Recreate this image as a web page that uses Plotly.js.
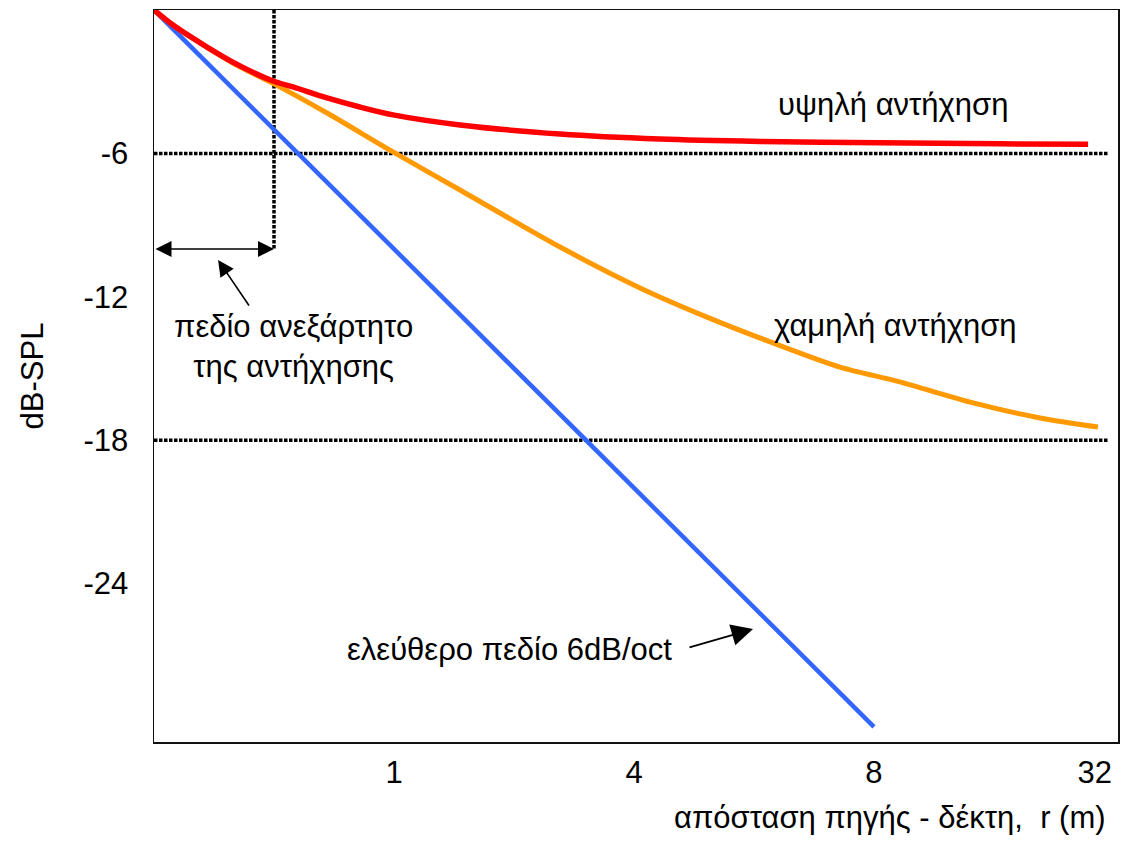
<!DOCTYPE html>
<html>
<head>
<meta charset="utf-8">
<script src="https://cdn.plot.ly/plotly-3.0.1.min.js"></script>
<style>html,body{margin:0;padding:0;background:#fff;}</style>
</head>
<body>
<div id="chart" style="width:1122px;height:841px;"></div>
<script>
// x positions are the equally spaced distance steps of the chart's axis
const tickPos = [1, 2, 3, 3.92];
const tickText = ['1', '4', '8', '32'];
const yTickVals = [-6, -12, -18, -24];
const yTickText = ['-6', '-12', '-18', '-24'];

const freeX = [0, 3];
const freeY = [0, -30];

const highX = [0, 0.079, 0.221, 0.358, 0.496, 0.579, 0.721, 0.858, 0.996, 1.275, 1.692, 2.108, 2.525, 3.025, 3.525, 3.892];
const highY = [0, -0.63, -1.55, -2.34, -2.97, -3.22, -3.68, -4.06, -4.39, -4.81, -5.19, -5.40, -5.50, -5.56, -5.60, -5.62];

const lowX = [0, 0.079, 0.221, 0.358, 0.496, 0.721, 0.996, 1.275, 1.692, 2.025, 2.304, 2.579, 2.858, 3.108, 3.413, 3.692, 3.933];
const lowY = [0, -0.63, -1.56, -2.38, -3.07, -4.31, -5.94, -7.53, -9.92, -11.63, -12.85, -13.93, -14.94, -15.56, -16.44, -17.07, -17.45];

const guideLevels = [-6, -18];
const guideEnd = 3.975;
const criticalDist = 0.5;
const arrowLevel = -10;

const F = '"Liberation Sans", Arial, sans-serif';
const fs = 31;

const traces = [
  {x: freeX, y: freeY, mode: 'lines', line: {color: '#3366FF', width: 4.5}, hoverinfo: 'skip'},
  {x: lowX, y: lowY, mode: 'lines', line: {color: '#FF9900', width: 5, shape: 'spline', smoothing: 0.8}, hoverinfo: 'skip'},
  {x: highX, y: highY, mode: 'lines', line: {color: '#FF0000', width: 5.5, shape: 'spline', smoothing: 0.8}, hoverinfo: 'skip'}
];

const dotLine = {color: '#000', width: 3.5, dash: '3.5px,1.5px'};
const shapes = guideLevels.map(v => ({
  type: 'line', xref: 'x', yref: 'y', x0: 0, x1: guideEnd, y0: v, y1: v,
  line: dotLine, layer: 'below'
}));
shapes.push({
  type: 'line', xref: 'x', yref: 'y', x0: criticalDist, x1: criticalDist, y0: 0, y1: arrowLevel,
  line: dotLine, layer: 'below'
});

const annotations = [
  {x: 3.08, y: -3.97, xref: 'x', yref: 'y', text: 'υψηλή αντήχηση', showarrow: false, xanchor: 'center', yanchor: 'middle', font: {family: F, size: fs, color: '#000'}},
  {x: 3.09, y: -13.22, xref: 'x', yref: 'y', text: 'χαμηλή αντήχηση', showarrow: false, xanchor: 'center', yanchor: 'middle', font: {family: F, size: fs, color: '#000'}},
  {x: 0.583, y: -14.06, xref: 'x', yref: 'y', text: 'πεδίο ανεξάρτητο<br>της αντήχησης', showarrow: false, xanchor: 'center', yanchor: 'middle', align: 'center', font: {family: F, size: fs, color: '#000'}},
  {x: 1.483, y: -26.78, xref: 'x', yref: 'y', text: 'ελεύθερο πεδίο 6dB/oct', showarrow: false, xanchor: 'center', yanchor: 'middle', font: {family: F, size: fs, color: '#000'}},
  {x: 2.496, y: -25.9, ax: 2.225, ay: -26.69, xref: 'x', yref: 'y', axref: 'x', ayref: 'y', text: '', showarrow: true, arrowhead: 2, arrowsize: 2.4, arrowwidth: 1.8, arrowcolor: '#000', standoff: 0, startstandoff: 0},
  {x: 0.267, y: -10.46, ax: 0.4, ay: -12.43, xref: 'x', yref: 'y', axref: 'x', ayref: 'y', text: '', showarrow: true, arrowhead: 2, arrowsize: 2, arrowwidth: 1.6, arrowcolor: '#000', standoff: 0, startstandoff: 0},
  {x: criticalDist, y: arrowLevel, ax: 0, ay: arrowLevel, xref: 'x', yref: 'y', axref: 'x', ayref: 'y', text: '', showarrow: true, arrowside: 'end+start', arrowhead: 2, startarrowhead: 2, arrowsize: 2, startarrowsize: 2, arrowwidth: 1.6, arrowcolor: '#000', standoff: 0, startstandoff: 0},
  {x: 0.9896, y: -0.1025, xref: 'paper', yref: 'paper', text: 'απόσταση πηγής - δέκτη,  r (m)', showarrow: false, xanchor: 'right', yanchor: 'middle', font: {family: F, size: fs, color: '#000'}}
];

const layout = {
  width: 1122, height: 841,
  margin: {l: 154, r: 4, t: 10, b: 99, pad: 0},
  paper_bgcolor: '#fff', plot_bgcolor: '#fff',
  showlegend: false,
  font: {family: F, size: fs, color: '#000'},
  xaxis: {
    range: [0, 4.0167], showgrid: false, zeroline: false,
    showline: true, mirror: true, linecolor: '#111', linewidth: 1.5,
    tickmode: 'array', tickvals: tickPos, ticktext: tickText, ticks: '',
    tickfont: {family: F, size: fs, color: '#000'}, ticklabelstandoff: 2
  },
  yaxis: {
    range: [-30.63, 0], showgrid: false, zeroline: false,
    showline: true, mirror: true, linecolor: '#111', linewidth: 1.5,
    tickmode: 'array', tickvals: yTickVals, ticktext: yTickText, ticks: '',
    tickfont: {family: F, size: fs, color: '#000'}, ticklabelstandoff: 18,
    title: {text: 'dB-SPL', font: {family: F, size: fs, color: '#000'}, standoff: 30}
  },
  shapes: shapes,
  annotations: annotations
};

Plotly.newPlot('chart', traces, layout, {staticPlot: true, displayModeBar: false});
</script>
</body>
</html>
